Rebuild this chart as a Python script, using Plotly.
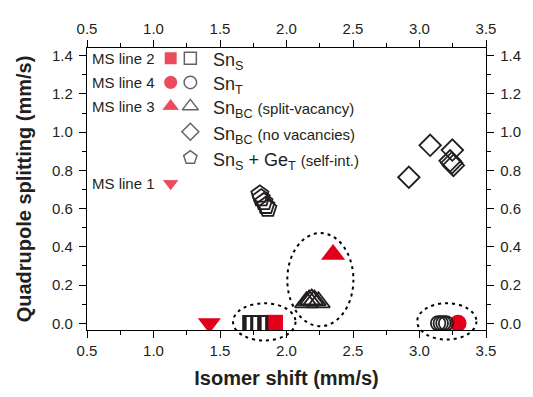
import plotly.graph_objects as go

# ---------------- data ----------------
ms_line2_x = [1.91]
ms_line2_y = [0.0]
ms_line4_x = [3.29]
ms_line4_y = [0.0]
ms_line3_x = [2.35]
ms_line3_y = [0.36]
ms_line1_x = [1.42]
ms_line1_y = [0.0]

sn_s_x = [1.73, 1.74, 1.75, 1.79, 1.80]
sn_s_y = [0.0, 0.0, 0.0, 0.0, 0.0]
sn_t_x = [3.14, 3.16, 3.18, 3.20]
sn_t_y = [0.0, 0.0, 0.0, 0.0]
sn_bc_sv_x = [2.15, 2.17, 2.19, 2.21, 2.24]
sn_bc_sv_y = [0.11, 0.12, 0.125, 0.12, 0.11]
sn_bc_nv_x = [3.08, 3.247, 3.23, 3.243, 3.255, 2.92]
sn_bc_nv_y = [0.931, 0.906, 0.85, 0.839, 0.826, 0.764]
sn_ge_x = [1.80, 1.81, 1.83, 1.845, 1.86]
sn_ge_y = [0.675, 0.655, 0.635, 0.615, 0.60]

x_ticks = [0.5, 1.0, 1.5, 2.0, 2.5, 3.0, 3.5]
y_ticks = [0.0, 0.2, 0.4, 0.6, 0.8, 1.0, 1.2, 1.4]

# legend rows
legend_red_labels = ["MS line 2", "MS line 4", "MS line 3", "MS line 1"]
legend_red_symbols = ["square", "circle", "triangle-up", "triangle-down"]
legend_red_rows = [0, 1, 2, 5]
legend_black_labels = [
    "Sn<sub>S</sub>",
    "Sn<sub>T</sub>",
    "Sn<sub>BC</sub> <span style='font-size:15px'>(split-vacancy)</span>",
    "Sn<sub>BC</sub> <span style='font-size:15px'>(no vacancies)</span>",
    "Sn<sub>S</sub> + Ge<sub>T</sub> <span style='font-size:15px'>(self-int.)</span>",
]
legend_black_symbols = ["square-open", "circle-open", "triangle-up-open",
                        "diamond-open", "pentagon-open"]
legend_black_rows = [0, 1, 2, 3, 4]

# ---------------- styling/layout constants ----------------
RED = "#E3001B"
INK = "#231F20"
FONT = "Arial, Liberation Sans, sans-serif"
XR = [0.5, 3.5]
YR = [-0.035, 1.44]
row_y = [0.9635, 0.878, 0.793, 0.703, 0.611, 0.520]
red_col, black_col, ms_text_x, sn_text_x = 0.2097, 0.259, 0.175, 0.31
red_leg_sizes = [13, 14, 16, 15]
black_leg_sizes = [12, 12.5, 14, 13, 14]


def ypaper(v):
    return (v - YR[0]) / (YR[1] - YR[0])


fig = go.Figure()

blk = dict(color=INK, width=1.8)
# red measured lines first, black calculated on top
fig.add_trace(go.Scatter(x=ms_line2_x, y=ms_line2_y, mode="markers",
                         marker=dict(symbol="square", size=17, color=RED)))
fig.add_trace(go.Scatter(x=ms_line4_x, y=ms_line4_y, mode="markers",
                         marker=dict(symbol="circle", size=17, color=RED)))
fig.add_trace(go.Scatter(x=ms_line3_x, y=ms_line3_y, mode="markers",
                         marker=dict(symbol="triangle-up", size=21, color=RED)))
fig.add_trace(go.Scatter(x=ms_line1_x, y=ms_line1_y, mode="markers",
                         marker=dict(symbol="triangle-down", size=20, color=RED)))

fig.add_trace(go.Scatter(x=sn_s_x, y=sn_s_y, mode="markers",
                         marker=dict(symbol="square-open", size=15, line=blk, color=INK)))
fig.add_trace(go.Scatter(x=sn_t_x, y=sn_t_y, mode="markers",
                         marker=dict(symbol="circle-open", size=14.5, line=blk, color=INK)))
fig.add_trace(go.Scatter(x=sn_bc_sv_x, y=sn_bc_sv_y, mode="markers",
                         marker=dict(symbol="triangle-up-open", size=20, line=blk, color=INK)))
fig.add_trace(go.Scatter(x=sn_bc_nv_x, y=sn_bc_nv_y, mode="markers",
                         marker=dict(symbol="diamond-open", size=16.5, line=blk, color=INK)))
fig.add_trace(go.Scatter(x=sn_ge_x, y=sn_ge_y, mode="markers",
                         marker=dict(symbol="pentagon-open", size=18, line=blk, color=INK)))

# dummy trace so the top/right axes get drawn
fig.add_trace(go.Scatter(x=[None], y=[None], xaxis="x2", yaxis="y2",
                         mode="markers", hoverinfo="skip"))

# legend keys on an overlay axis spanning the plot area
fig.add_trace(go.Scatter(
    x=[red_col] * len(legend_red_rows), y=[row_y[r] for r in legend_red_rows],
    xaxis="x3", yaxis="y3", mode="markers", hoverinfo="skip",
    marker=dict(symbol=legend_red_symbols, size=red_leg_sizes, color=RED)))
fig.add_trace(go.Scatter(
    x=[black_col] * len(legend_black_rows), y=[row_y[r] for r in legend_black_rows],
    xaxis="x3", yaxis="y3", mode="markers", hoverinfo="skip",
    marker=dict(symbol=legend_black_symbols, size=black_leg_sizes, color=INK,
                line=dict(color=INK, width=1.5))))

annotations = []
for lab, r in zip(legend_red_labels, legend_red_rows):
    annotations.append(dict(text=lab, x=ms_text_x, y=row_y[r], xref="paper", yref="paper",
                            xanchor="right", yanchor="middle", showarrow=False,
                            font=dict(family=FONT, size=15, color=INK)))
for lab, r in zip(legend_black_labels, legend_black_rows):
    annotations.append(dict(text=lab, x=sn_text_x, y=row_y[r] - 0.012, xref="paper", yref="paper",
                            xanchor="left", yanchor="middle", showarrow=False,
                            font=dict(family=FONT, size=18, color=INK)))

dot = dict(color="black", width=2, dash="3px,4px")
shapes = [
    dict(type="circle", xref="x", yref="paper", x0=1.598, x1=2.068,
         y0=ypaper(-0.09), y1=ypaper(0.105), line=dot, layer="above"),
    dict(type="circle", xref="x", yref="y", x0=2.006, x1=2.503,
         y0=-0.015, y1=0.472, line=dot, layer="above"),
    dict(type="circle", xref="x", yref="paper", x0=2.983, x1=3.428,
         y0=ypaper(-0.085), y1=ypaper(0.105), line=dot, layer="above"),
]

tickfont = dict(family=FONT, size=15, color=INK)
common_x = dict(range=XR, tickvals=x_ticks, tickformat=".1f", ticks="outside",
                ticklen=7, tickwidth=1.3, tickcolor="black", showline=True,
                linecolor="black", linewidth=1.3, showgrid=False, zeroline=False,
                tickfont=tickfont,
                minor=dict(dtick=0.25, tick0=0.5, ticks="outside", ticklen=4,
                           tickwidth=1.3, tickcolor="black"))
common_y = dict(range=YR, tickvals=y_ticks, tickformat=".1f", ticks="outside",
                ticklen=7, tickwidth=1.3, tickcolor="black", showline=True,
                linecolor="black", linewidth=1.3, showgrid=False, zeroline=False,
                tickfont=tickfont, ticklabelstandoff=3,
                minor=dict(dtick=0.1, tick0=0.0, ticks="outside", ticklen=4,
                           tickwidth=1.3, tickcolor="black"))

# the page body adds an 8px offset, so the figure is 8px smaller on each axis
fig.update_layout(
    width=525, height=389,
    margin=dict(l=79, r=42, t=33, b=63),
    paper_bgcolor="white", plot_bgcolor="white",
    showlegend=False,
    font=dict(family=FONT, color=INK),
    xaxis=dict(**common_x, anchor="y",
               title=dict(text="<b>Isomer shift (mm/s)</b>",
                          font=dict(family=FONT, size=20, color=INK), standoff=12)),
    yaxis=dict(**common_y, anchor="x",
               title=dict(text="<b>Quadrupole splitting (mm/s)</b>",
                          font=dict(family=FONT, size=20, color=INK), standoff=14)),
    xaxis2=dict(**common_x, overlaying="x", side="top", anchor="y"),
    yaxis2=dict(**common_y, overlaying="y", side="right", anchor="x"),
    xaxis3=dict(range=[0, 1], overlaying="x", anchor="y3", visible=False),
    yaxis3=dict(range=[0, 1], overlaying="y", anchor="x3", visible=False),
    annotations=annotations,
    shapes=shapes,
)

fig.write_html("out.html")
